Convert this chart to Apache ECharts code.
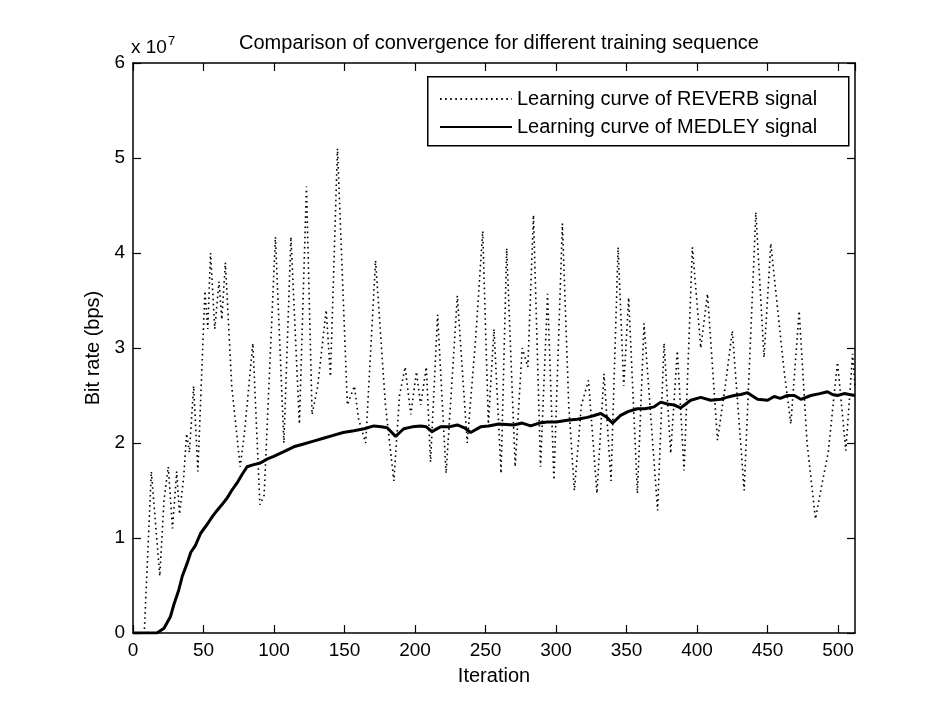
<!DOCTYPE html>
<html>
<head>
<meta charset="utf-8">
<script src="https://cdn.jsdelivr.net/npm/echarts@6/dist/echarts.min.js"></script>
<style>html,body{margin:0;padding:0;background:#fff}#c{width:932px;height:705px}</style>
</head>
<body>
<div id="c"></div>
<script>
// Tick labels
const xTicks = [0, 50, 100, 150, 200, 250, 300, 350, 400, 450, 500];
const yTicks = [0, 1, 2, 3, 4, 5, 6];

// REVERB learning curve (iteration, bit rate x 1e7)
const reverbX = [0, 8, 13, 19, 22, 25, 28, 31, 33, 36, 38, 40, 43, 46, 51, 53, 55, 58, 61, 63, 65.5, 70, 76, 79, 85, 90, 93, 101, 107, 112, 118, 123, 127, 131, 137, 140, 145, 152, 157, 160, 165, 172, 179, 185, 189, 193, 197, 201, 204, 208, 211, 216, 222, 226, 230, 237, 243, 248, 252, 256, 261, 265, 271, 276, 280, 284, 289, 294, 298.5, 304.5, 309, 313, 318, 323, 329, 334, 339, 344, 348, 351.5, 357.7, 362.4, 372, 376.6, 381.3, 386, 390.8, 396.7, 402.6, 407.4, 414.5, 420, 425, 433.4, 441.7, 447.5, 452.3, 461.7, 466.5, 472.4, 478, 484, 489, 493, 499.6, 505.5, 510.3, 512];
const reverbY = [0, 0, 1.7, 0.6, 1.4, 1.75, 1.1, 1.7, 1.25, 1.65, 2.1, 1.9, 2.6, 1.7, 3.6, 3.2, 4.0, 3.2, 3.7, 3.3, 3.9, 2.6, 1.75, 2.1, 3.05, 1.35, 1.45, 4.17, 2.0, 4.17, 2.2, 4.7, 2.3, 2.6, 3.4, 2.7, 5.1, 2.4, 2.6, 2.25, 2.0, 3.92, 2.4, 1.6, 2.5, 2.8, 2.3, 2.75, 2.4, 2.8, 1.8, 3.35, 1.68, 2.6, 3.55, 2.0, 3.1, 4.23, 2.2, 3.2, 1.68, 4.05, 1.75, 3.0, 2.8, 4.4, 1.75, 3.57, 1.61, 4.31, 2.4, 1.5, 2.4, 2.66, 1.47, 2.73, 1.6, 4.06, 2.6, 3.53, 1.47, 3.26, 1.29, 3.05, 1.89, 2.97, 1.71, 4.06, 3.0, 3.57, 2.03, 2.6, 3.18, 1.5, 4.43, 2.9, 4.1, 2.76, 2.2, 3.39, 2.0, 1.2, 1.6, 1.9, 2.85, 1.92, 2.94, 2.6];

// MEDLEY learning curve
const medleyX = [0, 17, 22, 26.5, 29, 32.4, 35, 38.3, 41, 44.2, 48, 52.9, 56, 59.6, 63, 66.7, 70, 73.8, 77, 80.9, 85, 90.3, 95, 99.8, 107, 114, 121, 128, 135, 142, 149, 156.6, 164, 170.8, 176, 180.3, 186.2, 192, 198, 204, 208, 212, 218, 224, 230, 235, 239.4, 246.5, 252, 259.5, 270, 276, 282, 288, 293.8, 300, 308, 315, 322.2, 327, 331.7, 336, 340, 345.8, 351, 357.6, 363, 369.5, 374.2, 379, 383.7, 388.4, 395.5, 402.6, 409.7, 416.9, 421, 426.3, 431, 435.8, 442.9, 450, 454.7, 459, 464.1, 469, 473.6, 480.7, 487, 492.5, 496, 499.6, 504.3, 508, 512];
const medleyY = [0, 0, 0.05, 0.17, 0.3, 0.45, 0.6, 0.73, 0.85, 0.92, 1.05, 1.15, 1.22, 1.29, 1.35, 1.42, 1.5, 1.58, 1.66, 1.75, 1.77, 1.79, 1.83, 1.86, 1.91, 1.96, 1.99, 2.02, 2.05, 2.08, 2.11, 2.13, 2.15, 2.18, 2.17, 2.16, 2.07, 2.15, 2.17, 2.18, 2.17, 2.12, 2.17, 2.17, 2.19, 2.16, 2.11, 2.17, 2.18, 2.2, 2.19, 2.21, 2.18, 2.21, 2.22, 2.22, 2.24, 2.25, 2.27, 2.29, 2.31, 2.27, 2.21, 2.29, 2.33, 2.36, 2.36, 2.38, 2.43, 2.41, 2.40, 2.37, 2.45, 2.48, 2.45, 2.46, 2.48, 2.5, 2.51, 2.53, 2.46, 2.45, 2.49, 2.47, 2.5, 2.5, 2.46, 2.5, 2.52, 2.54, 2.51, 2.5, 2.52, 2.51, 2.5];

const seriesNames = ['Learning curve of REVERB signal', 'Learning curve of MEDLEY signal'];
const titleText = 'Comparison of convergence for different training sequence';

const FONT = 'Liberation Sans, Arial, sans-serif';
const chart = echarts.init(document.getElementById('c'), null, {renderer: 'canvas'});

function axisBase(showLabels) {
  return {
    type: 'value',
    axisLine: {show: true, onZero: false, lineStyle: {color: '#000', width: 1.5}},
    axisTick: {show: true, inside: true, length: 8, lineStyle: {color: '#000', width: 1.2}},
    splitLine: {show: false},
    axisLabel: {show: showLabels, color: '#000', fontSize: 19, fontFamily: FONT}
  };
}

const xMain = Object.assign(axisBase(true), {
  position: 'bottom', min: 0, max: 512, interval: 50,
  name: 'Iteration', nameLocation: 'middle', nameGap: 33,
  nameTextStyle: {color: '#000', fontSize: 20, fontFamily: FONT}
});
xMain.axisLabel.margin = 8;
xMain.axisLabel.showMaxLabel = false;
xMain.axisLabel.formatter = v => (xTicks.indexOf(v) >= 0 ? String(v) : '');
const xTop = Object.assign(axisBase(false), {position: 'top', min: 0, max: 512, interval: 50});

const yMain = Object.assign(axisBase(true), {
  position: 'left', min: 0, max: 6, interval: 1,
  name: 'Bit rate (bps)', nameLocation: 'middle', nameGap: 28,
  nameTextStyle: {color: '#000', fontSize: 20, fontFamily: FONT}
});
yMain.axisLabel.margin = 8;
yMain.axisLabel.formatter = v => (yTicks.indexOf(v) >= 0 ? String(v) : '');
const yRight = Object.assign(axisBase(false), {position: 'right', min: 0, max: 6, interval: 1});

chart.setOption({
  animation: false,
  backgroundColor: '#fff',
  title: {
    text: titleText, left: 494, textAlign: 'center', top: 28,
    textStyle: {color: '#000', fontSize: 20, fontWeight: 'normal', fontFamily: FONT}
  },
  grid: {left: 133, right: 77, top: 63, bottom: 72, containLabel: false},
  xAxis: [xMain, xTop],
  yAxis: [yMain, yRight],
  legend: {
    orient: 'vertical', left: 434, top: 84,
    itemWidth: 72, itemHeight: 14, itemGap: 8,
    itemStyle: {opacity: 0},
    textStyle: {color: '#000', fontSize: 20, fontFamily: FONT, lineHeight: 20},
    data: seriesNames
  },
  graphic: [
    {type: 'rect', left: 427, top: 76, shape: {width: 421, height: 69}, style: {fill: 'rgba(255,255,255,0)', stroke: '#000', lineWidth: 1.5}, z: 10},
    {type: 'text', left: 131, top: 35, style: {text: '{a|x 10}{b|7}', rich: {a: {fontSize: 19, fontFamily: FONT, fill: '#000'}, b: {fontSize: 13, fontFamily: FONT, fill: '#000', verticalAlign: 'top', padding: [0, 0, 12, 1]}}}}
  ],
  series: [
    {
      name: seriesNames[0], type: 'line', xAxisIndex: 0, yAxisIndex: 0,
      data: reverbX.map((x, i) => [x, reverbY[i]]),
      showSymbol: false, symbol: 'none',
      lineStyle: {color: '#000', width: 1.6, type: [1.6, 3.5]},
      itemStyle: {color: '#000'}
    },
    {
      name: seriesNames[1], type: 'line', xAxisIndex: 0, yAxisIndex: 0,
      data: medleyX.map((x, i) => [x, medleyY[i]]),
      showSymbol: false, symbol: 'none',
      lineStyle: {color: '#000', width: 3},
      itemStyle: {color: '#000'}
    }
  ]
});
</script>
</body>
</html>
